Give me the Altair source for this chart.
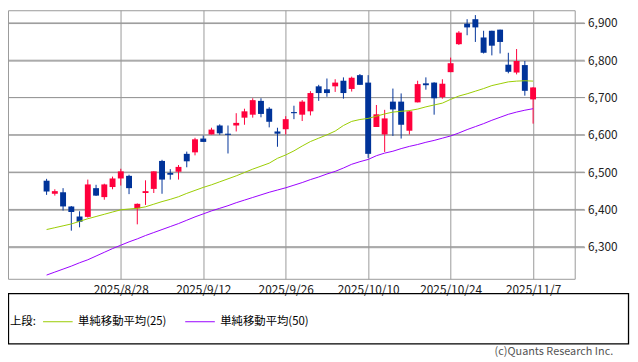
import altair as alt
import pandas as pd

dates = [
    "2025/8/15", "2025/8/18", "2025/8/19", "2025/8/20", "2025/8/21", "2025/8/22",
    "2025/8/25", "2025/8/26", "2025/8/27", "2025/8/28", "2025/8/29",
    "2025/9/2", "2025/9/3", "2025/9/4", "2025/9/5", "2025/9/8", "2025/9/9",
    "2025/9/10", "2025/9/11", "2025/9/12", "2025/9/15", "2025/9/16", "2025/9/17",
    "2025/9/18", "2025/9/19", "2025/9/22", "2025/9/23", "2025/9/24", "2025/9/25",
    "2025/9/26", "2025/9/29", "2025/9/30", "2025/10/1", "2025/10/2", "2025/10/3",
    "2025/10/6", "2025/10/7", "2025/10/8", "2025/10/9", "2025/10/10",
    "2025/10/13", "2025/10/14", "2025/10/15", "2025/10/16", "2025/10/17",
    "2025/10/20", "2025/10/21", "2025/10/22", "2025/10/23", "2025/10/24",
    "2025/10/27", "2025/10/28", "2025/10/29", "2025/10/30", "2025/10/31",
    "2025/11/3", "2025/11/4", "2025/11/5", "2025/11/6", "2025/11/7",
]
opens = [6477, 6442, 6446, 6408, 6381, 6380, 6457, 6433, 6460, 6483, 6490,
         6403, 6444, 6455, 6530, 6498, 6501, 6549, 6553, 6590,
         6601, 6625, 6603, 6625, 6646, 6654, 6691, 6670, 6609, 6615,
         6661, 6654, 6663, 6730, 6722, 6730, 6745, 6723, 6760, 6740,
         6621, 6601, 6689, 6689, 6611, 6687, 6738, 6740, 6701, 6768,
         6843, 6898, 6910, 6861, 6879, 6882, 6788, 6767, 6787, 6695]
highs = [6482, 6454, 6457, 6409, 6395, 6480, 6466, 6469, 6488, 6509, 6493,
         6416, 6478, 6502, 6533, 6508, 6519, 6555, 6592, 6598,
         6619, 6628, 6625, 6658, 6670, 6698, 6698, 6674, 6619, 6650,
         6678, 6693, 6717, 6734, 6751, 6749, 6754, 6756, 6763, 6760,
         6680, 6667, 6724, 6711, 6665, 6745, 6754, 6741, 6749, 6807,
         6878, 6910, 6921, 6879, 6879, 6882, 6820, 6830, 6798, 6728]
lows = [6439, 6437, 6397, 6343, 6352, 6378, 6436, 6426, 6454, 6464, 6441,
        6360, 6412, 6444, 6442, 6480, 6480, 6513, 6545, 6581,
        6601, 6600, 6550, 6609, 6627, 6646, 6647, 6620, 6568, 6601,
        6642, 6637, 6652, 6691, 6702, 6715, 6697, 6716, 6734, 6538,
        6621, 6554, 6597, 6590, 6601, 6687, 6721, 6654, 6697, 6768,
        6841, 6867, 6849, 6818, 6813, 6818, 6765, 6762, 6705, 6630]
closes = [6448, 6449, 6408, 6393, 6367, 6467, 6437, 6467, 6483, 6502, 6457,
          6415, 6449, 6502, 6480, 6493, 6514, 6529, 6588, 6581,
          6614, 6604, 6600, 6632, 6663, 6693, 6656, 6635, 6603, 6642,
          6658, 6689, 6712, 6712, 6712, 6740, 6712, 6753, 6734, 6549,
          6655, 6644, 6668, 6627, 6663, 6736, 6733, 6698, 6737, 6792,
          6874, 6888, 6888, 6820, 6839, 6849, 6769, 6798, 6718, 6727]
ma25 = [6346, 6351, 6356, 6361, 6368, 6375, 6381, 6387, 6393, 6399,
        6401, 6403, 6407, 6414, 6421, 6427, 6434, 6443, 6451, 6459,
        6466, 6474, 6482, 6490, 6499, 6508, 6516, 6524, 6537, 6546,
        6557, 6570, 6582, 6591, 6600, 6610, 6625, 6636, 6641, 6644,
        6650, 6656, 6661, 6663, 6665, 6669, 6675, 6680, 6685, 6695,
        6704, 6710, 6717, 6724, 6732, 6737, 6742, 6744, 6745, 6744]
ma50 = [6224, 6232, 6240, 6248, 6257, 6265, 6275, 6285, 6295, 6304,
        6313, 6321, 6330, 6338, 6346, 6354, 6362, 6371, 6380, 6388,
        6396, 6403, 6410, 6418, 6425, 6432, 6439, 6446, 6452, 6458,
        6465, 6472, 6480, 6487, 6495, 6502, 6511, 6521, 6528, 6534,
        6544, 6551, 6556, 6563, 6569, 6574, 6580, 6585, 6591, 6597,
        6605, 6614, 6622, 6630, 6639, 6647, 6655, 6661, 6666, 6670]
y_ticks = [6300, 6400, 6500, 6600, 6700, 6800, 6900]
x_tick_idx = [9, 19, 29, 39, 49, 59]
ma_labels = ["単純移動平均(25)", "単純移動平均(50)"]
legend_title = "上段:"
credit = "(c)Quants Research Inc."

FONT = "Noto Sans CJK JP"
RED = "#ff003c"
BLUE = "#003399"
GRID = "#999999"
W, H = 574, 272

n = len(dates)
candles = pd.DataFrame({
    "i": list(range(n)), "date": dates, "open": opens, "high": highs,
    "low": lows, "close": closes,
})
candles["dir"] = ["up" if c >= o else "down" for o, c in zip(opens, closes)]

ma = pd.concat([
    pd.DataFrame({"i": list(range(n)), "value": ma25, "series": ma_labels[0]}),
    pd.DataFrame({"i": list(range(n)), "value": ma50, "series": ma_labels[1]}),
])
ygrid = pd.DataFrame({"v": y_ticks})

label_expr = "[" + ",".join("'" + d + "'" for d in dates) + "][datum.value]"

xscale = alt.Scale(domain=[-4.08, 63.45], nice=False, zero=False)
yscale = alt.Scale(domain=[6214, 6934], nice=False, zero=False)
xaxis = alt.Axis(values=x_tick_idx, labelExpr=label_expr, title=None, ticks=False,
                 domain=False, grid=True, gridColor=GRID, gridOpacity=1,
                 labelFont=FONT, labelFontSize=12, labelColor="#222222",
                 labelPadding=6, labelOverlap=False, labelFlush=False)
yaxis = alt.Axis(orient="right", values=y_ticks, format=",.0f", title=None,
                 grid=True, gridColor=GRID, gridOpacity=1, ticks=True,
                 tickColor=GRID, tickSize=10, domain=False, labelFont=FONT,
                 labelFontSize=12, labelColor="#222222", labelPadding=3)

dir_color = alt.Color("dir:N", scale=alt.Scale(domain=["up", "down"], range=[RED, BLUE]),
                      legend=None)

# horizontal grid lines (with tick extension past the right border)
grid_rules = alt.Chart(ygrid).mark_rule(color=GRID, strokeWidth=1).encode(
    y=alt.Y("v:Q", scale=yscale, axis=yaxis),
    x=alt.value(0), x2=alt.value(W + 10),
)
wick = alt.Chart(candles).mark_rule(strokeWidth=1).encode(
    x=alt.X("i:Q", scale=xscale, axis=xaxis),
    y=alt.Y("low:Q", scale=yscale, axis=yaxis),
    y2="high:Q",
    color=dir_color,
)
body = alt.Chart(candles).mark_bar(size=6).encode(
    x=alt.X("i:Q", scale=xscale, axis=xaxis),
    y=alt.Y("open:Q", scale=yscale, axis=yaxis),
    y2="close:Q",
    color=dir_color,
)
lines = alt.Chart(ma).mark_line(strokeWidth=1).encode(
    x=alt.X("i:Q", scale=xscale, axis=xaxis),
    y=alt.Y("value:Q", scale=yscale, axis=yaxis),
    color=alt.Color("series:N",
                    scale=alt.Scale(domain=ma_labels, range=["#99cc00", "#9900ff"]),
                    legend=alt.Legend(
                        title=None, orient="none", legendX=35, legendY=300,
                        direction="horizontal",
                        symbolType="stroke", symbolSize=900, symbolStrokeWidth=1,
                        labelOffset=5, columnPadding=16,
                        labelFont=FONT, labelFontSize=11.5,
                        labelColor="#000000", padding=0)),
    detail="series:N",
)

one = pd.DataFrame({"k": [0]})
box = alt.Chart(one).mark_rect(filled=False, stroke="#000000", strokeWidth=1.3).encode(
    x=alt.value(0.5), x2=alt.value(628.5), y=alt.value(287), y2=alt.value(338)
)
title_text = alt.Chart(one).mark_text(
    text=legend_title, align="left", baseline="middle", font=FONT, fontSize=11.5,
    color="#000000"
).encode(x=alt.value(2), y=alt.value(316))
credit_text = alt.Chart(one).mark_text(
    text=credit, align="right", baseline="middle", font=FONT, fontSize=11, color="#555555"
).encode(x=alt.value(613), y=alt.value(346))

chart = alt.layer(grid_rules, wick, body, lines, box, title_text, credit_text).resolve_scale(
    color="independent"
).properties(
    width=W, height=H,
    autosize=alt.AutoSizeParams(type="none"),
    padding={"left": 0, "top": 0, "right": 56, "bottom": 82},
).configure(font=FONT).configure_view(stroke=GRID, strokeWidth=1)

chart.save("out.html", embed_options={"renderer": "svg", "actions": False})
